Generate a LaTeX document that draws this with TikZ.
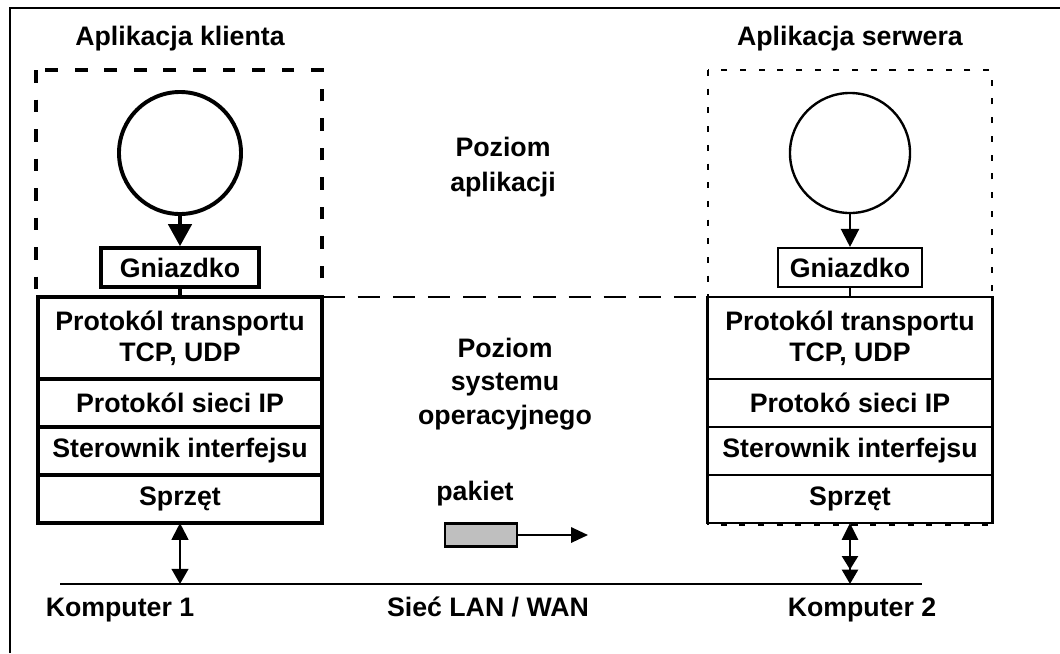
\documentclass[tikz,border=0pt]{standalone}
\usepackage{fontspec}
\setmainfont{Liberation Sans}
\usetikzlibrary{arrows.meta,positioning}

\begin{document}
\begin{tikzpicture}[x=0.025cm, y=-0.025cm,
    every node/.style={font=\fontsize{19}{22}\selectfont\bfseries, align=center},
    layer/.style={draw, outer sep=0pt, inner sep=0pt, minimum width=7.12cm, minimum height=1.2cm},
    app/.style={draw, circle, minimum size=3.05cm},
    sock/.style={draw, inner sep=0pt, minimum height=0.975cm}]
  \useasboundingbox (0,0) rectangle (1060,653);
  \draw[line width=1.4pt] (10,653) -- (10,8) -- (1060,8);

  % klient
  \node[anchor=base] (titleL) at (180,45) {Aplikacja klienta};
  \draw[line width=2.8pt, dash pattern=on 9pt off 12pt] (36,70) rectangle (322,297);
  \node[app, line width=2.8pt] (appL) at (180,153) {};
  \node[sock, line width=2.6pt, minimum width=3.95cm] (sockL) at (180,267.5) {Gniazdko};
  \node[layer, line width=2.6pt, minimum height=2.05cm, anchor=north] (tcpL) at (180,297) {Protokól transportu\\TCP, UDP};
  \node[layer, line width=2.6pt, below=0pt of tcpL] (ipL) {Protokól sieci IP};
  \node[layer, line width=2.6pt, below=0pt of ipL] (drvL) {Sterownik interfejsu};
  \node[layer, line width=2.6pt, below=0pt of drvL] (hwL) {Sprzęt};
  \draw[line width=2.8pt] (tcpL.north west) rectangle (hwL.south east);
  \draw[line width=2.8pt, -{Triangle[length=0.55cm, width=0.58cm]}] (appL) -- (sockL);
  \draw[line width=2.8pt] (sockL) -- (tcpL);

  % serwer
  \node[anchor=base] (titleR) at (850,45) {Aplikacja serwera};
  \draw[line width=1.7pt, dash pattern=on 4.3pt off 9pt] (708,70) rectangle (992,525);
  \node[app, line width=1.7pt, minimum size=3cm] (appR) at (850,153) {};
  \node[sock, line width=1.5pt, minimum width=3.6cm] (sockR) at (850,267.5) {Gniazdko};
  \node[layer, line width=1.6pt, minimum height=2.05cm, anchor=north] (tcpR) at (850,297) {Protokól transportu\\TCP, UDP};
  \node[layer, line width=1.6pt, below=0pt of tcpR] (ipR) {Protokó sieci IP};
  \node[layer, line width=1.6pt, below=0pt of ipR] (drvR) {Sterownik interfejsu};
  \node[layer, line width=1.6pt, below=0pt of drvR] (hwR) {Sprzęt};
  \draw[line width=1.6pt, -{Triangle[length=0.45cm, width=0.45cm]}] (appR) -- (sockR);
  \draw[line width=1.6pt] (sockR) -- (tcpR);

  % poziomy
  \draw[line width=1.5pt, dash pattern=on 16pt off 9pt] (tcpL.north east) -- (tcpR.north west);
  \node[font=\fontsize{19}{25}\selectfont\bfseries] (lvlApp) at (503,167) {Poziom\\aplikacji};
  \node[font=\fontsize{19}{24}\selectfont\bfseries] (lvlSys) at (505,384) {Poziom\\systemu\\operacyjnego};

  % siec
  \coordinate (lanL) at (60,584);
  \coordinate (lanR) at (922,584);
  \coordinate (tapL) at (180,584);
  \coordinate (tapR) at (850,584);
  \draw[line width=1.6pt] (lanL) -- (lanR);
  \draw[line width=1.5pt, {Triangle[length=0.42cm, width=0.42cm]}-{Triangle[length=0.38cm, width=0.42cm]}] (hwL) -- (tapL);
  \draw[line width=1.8pt, {Triangle[length=0.42cm, width=0.4cm]}-{Triangle[length=0.34cm, width=0.4cm] Triangle[length=0.36cm, width=0.4cm]}] (hwR) -- (tapR);
  \node[anchor=base] (pc1) at (120,616) {Komputer 1};
  \node[anchor=base] (lan) at (488,616) {Sieć LAN / WAN};
  \node[anchor=base] (pc2) at (862,616) {Komputer 2};

  % pakiet
  \node[anchor=base] (pktLbl) at (475,500) {pakiet};
  \node[draw, line width=1.5pt, fill=gray!50, inner sep=0pt, minimum width=1.8cm, minimum height=0.575cm] (pkt) at (481,535) {};
  \coordinate (pktEnd) at (588,535);
  \draw[line width=1.5pt, -{Triangle[length=0.42cm, width=0.38cm]}] (pkt) -- (pktEnd);
\end{tikzpicture}
\end{document}
